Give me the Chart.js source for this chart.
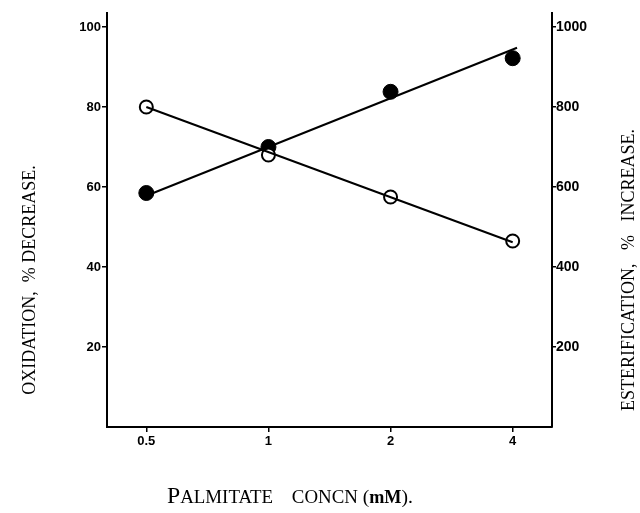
<!DOCTYPE html>
<html>
<head>
<meta charset="utf-8">
<script src="https://cdn.jsdelivr.net/npm/chart.js@4/dist/chart.umd.min.js"></script>
<style>
  html, body { margin: 0; padding: 0; background: #fff; }
</style>
</head>
<body>
<canvas id="chart" width="640" height="513"></canvas>
<script>
// palmitate concentration (mM)
const concn = [0.5, 1, 2, 4];
// open circles: oxidation, % decrease (left axis)
const oxidation = [80, 68, 57.5, 46.5];
// filled circles: esterification, % increase (right axis)
const esterification = [585, 700, 838, 922];
// fitted lines (end points)
const oxLineX = [0.5, 4];
const oxLineY = [80, 46.2];
const esLineX = [0.5, 4.1];
const esLineY = [578, 948];
// tick labels
const leftTicks = [20, 40, 60, 80, 100];
const rightTicks = [200, 400, 600, 800, 1000];

const pts = (xs, ys) => xs.map((x, i) => ({ x: x, y: ys[i] }));

// x title, small-caps look: [text, size, bold]
const xTitle = [['P', 17, false], ['ALMITATE', 13.5, false], ['    ', 13.5, false],
  ['CONCN', 13.5, false], [' (', 14, false], ['mM', 13, true], [').', 14, false]];

function drawPieces(ctx, list, cx, y, targetW) {
  const font = (p, k) => (p[2] ? 'bold ' : '') + (p[1] * k) + 'px "Liberation Serif"';
  let w = 0;
  list.forEach(p => { ctx.font = font(p, 1); w += ctx.measureText(p[0]).width; });
  const k = targetW / w;
  let x = cx - targetW / 2;
  ctx.textAlign = 'left';
  ctx.textBaseline = 'alphabetic';
  list.forEach(p => {
    ctx.font = font(p, k);
    ctx.fillText(p[0], x, y);
    x += ctx.measureText(p[0]).width;
  });
}

// axis titles drawn by hand (both side titles read bottom to top)
const titles = {
  id: 'titles',
  afterDraw(chart) {
    const ctx = chart.ctx;
    ctx.save();
    ctx.fillStyle = '#000';
    ctx.textAlign = 'center';
    ctx.textBaseline = 'middle';
    ctx.font = '18px "Liberation Serif"';

    ctx.save();
    ctx.translate(30, 280);
    ctx.rotate(-Math.PI / 2);
    ctx.fillText('OXIDATION,  % DECREASE.', 0, 0);
    ctx.restore();

    ctx.save();
    ctx.translate(629, 270);
    ctx.rotate(-Math.PI / 2);
    ctx.fillText('ESTERIFICATION,   %   INCREASE.', 0, 0);
    ctx.restore();

    drawPieces(ctx, xTitle, 290, 503, 246);
    ctx.restore();
  }
};

const tickFont = { family: 'Liberation Sans', weight: 'bold', size: 13 };

new Chart(document.getElementById('chart'), {
  type: 'scatter',
  data: {
    datasets: [
      {
        data: pts(oxLineX, oxLineY),
        showLine: true, pointRadius: 0,
        borderColor: '#000', borderWidth: 2, yAxisID: 'y'
      },
      {
        data: pts(esLineX, esLineY),
        showLine: true, pointRadius: 0,
        borderColor: '#000', borderWidth: 2, yAxisID: 'y1'
      },
      {
        data: pts(concn, oxidation),
        pointRadius: 6.5, pointBorderWidth: 2,
        pointBackgroundColor: '#fff', pointBorderColor: '#000', yAxisID: 'y'
      },
      {
        data: pts(concn, esterification),
        pointRadius: 7.5, pointBorderWidth: 1,
        pointBackgroundColor: '#000', pointBorderColor: '#000', yAxisID: 'y1'
      }
    ]
  },
  options: {
    responsive: false,
    animation: false,
    layout: { padding: { top: 13 } },
    plugins: { legend: { display: false }, tooltip: { enabled: false } },
    scales: {
      x: {
        type: 'logarithmic', min: 0.4, max: 5,
        grid: { drawOnChartArea: false, tickLength: 5, color: '#000', lineWidth: 1.5 },
        border: { color: '#000', width: 2 },
        ticks: {
          font: tickFont, color: '#000', padding: 2, maxRotation: 0, autoSkip: false,
          callback: v => String(v)
        },
        afterBuildTicks: s => { s.ticks = concn.map(v => ({ value: v })); },
        afterFit: s => { s.height = 86; }
      },
      y: {
        position: 'left', min: 0, max: 103.5,
        grid: { drawOnChartArea: false, tickLength: 5, color: '#000', lineWidth: 1.5 },
        border: { color: '#000', width: 2 },
        ticks: { font: tickFont, color: '#000', padding: 1 },
        afterBuildTicks: s => { s.ticks = leftTicks.map(v => ({ value: v })); },
        afterFit: s => { s.width = 107; }
      },
      y1: {
        position: 'right', min: 0, max: 1035,
        grid: { drawOnChartArea: false, tickLength: 4, color: '#000', lineWidth: 1.5 },
        border: { color: '#000', width: 2 },
        ticks: {
          font: { family: 'Liberation Sans', weight: 'bold', size: 14 }, color: '#000', padding: 0,
          callback: v => String(v)
        },
        afterBuildTicks: s => { s.ticks = rightTicks.map(v => ({ value: v })); },
        afterFit: s => { s.width = 88; }
      }
    }
  },
  plugins: [titles]
});
</script>
</body>
</html>
